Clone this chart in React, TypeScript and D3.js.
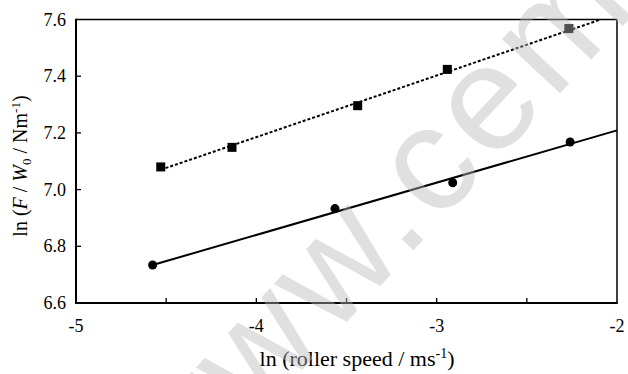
import React from "react";
import * as d3 from "d3";

const squareX = [-4.53, -4.135, -3.438, -2.941, -2.267];
const squareY = [7.08, 7.149, 7.296, 7.424, 7.568];
const circleX = [-4.575, -3.564, -2.911, -2.26];
const circleY = [6.734, 6.933, 7.024, 7.168];
const fitSquareX = [-4.53, -2.09];
const fitSquareY = [7.07, 7.6];
const fitCircleX = [-4.575, -2.0];
const fitCircleY = [6.734, 7.209];
const xTickMajor = [-5, -4, -3, -2];
const xTickMinor = [-4.5, -4, -3.5, -3, -2.5];
const yTicks = [6.6, 6.8, 7.0, 7.2, 7.4, 7.6];

const W = 628;
const H = 374;
const L = 76, R = 617, T = 19.5, B = 303;
const SERIF = '"Liberation Serif", "Times New Roman", Tinos, "DejaVu Serif", serif';

export default function App() {
  const x = d3.scaleLinear().domain([-5, -2]).range([L, R]);
  const y = d3.scaleLinear().domain([6.6, 7.6]).range([B, T]);
  const line = d3
    .line<[number, number]>()
    .x((d) => x(d[0]))
    .y((d) => y(d[1]));
  const sqFit: [number, number][] = fitSquareX.map((v, i) => [v, fitSquareY[i]]);
  const ciFit: [number, number][] = fitCircleX.map((v, i) => [v, fitCircleY[i]]);
  const ts = { fontFamily: SERIF };
  return (
    <svg
      width={W}
      height={H}
      style={{ position: "absolute", left: 0, top: 0, background: "#fff" }}
    >
      <rect x={0} y={0} width={W} height={H} fill="#fff" />
      {/* frame */}
      <line x1={L} x2={R} y1={T} y2={T} stroke="#000" strokeWidth={1.5} />
      <line x1={R} x2={R} y1={T} y2={B} stroke="#000" strokeWidth={1.5} />
      <line x1={L} x2={L} y1={T - 0.75} y2={B + 1} stroke="#000" strokeWidth={2} />
      <line x1={L - 1} x2={R + 0.75} y1={B} y2={B} stroke="#000" strokeWidth={2} />
      {/* ticks */}
      {xTickMinor.map((t) => (
        <line key={"xt" + t} x1={x(t)} x2={x(t)} y1={B} y2={B - 5} stroke="#000" strokeWidth={1.3} />
      ))}
      {yTicks.slice(1, -1).map((t) => (
        <line key={"yt" + t} x1={L} x2={L + 5} y1={y(t)} y2={y(t)} stroke="#000" strokeWidth={1.3} />
      ))}
      {xTickMajor.map((t) => (
        <text key={"xl" + t} x={x(t)} y={332} fontSize={18} textAnchor="middle" style={ts}>
          {"-" + Math.abs(t)}
        </text>
      ))}
      {yTicks.map((t) => (
        <text key={"yl" + t} x={66} y={y(t) + 6} fontSize={18} textAnchor="end" style={ts}>
          {t.toFixed(1)}
        </text>
      ))}
      {/* fits */}
      <path d={line(sqFit) || ""} fill="none" stroke="#000" strokeWidth={2} strokeDasharray="3,2" />
      <path d={line(ciFit) || ""} fill="none" stroke="#000" strokeWidth={2} />
      {/* markers */}
      {squareX.map((v, i) => (
        <rect key={"s" + i} x={x(v) - 4.5} y={y(squareY[i]) - 4.5} width={9} height={9} fill="#000" />
      ))}
      {circleX.map((v, i) => (
        <circle key={"c" + i} cx={x(v)} cy={y(circleY[i])} r={4.5} fill="#000" />
      ))}
      {/* axis titles */}
      <text x={357} y={366} fontSize={22} textAnchor="middle" style={ts}>
        ln (roller speed / ms<tspan dy={-8} fontSize={14}>-1</tspan>
        <tspan dy={8}>)</tspan>
      </text>
      <text transform={`translate(27, ${166}) rotate(-90)`} fontSize={20} textAnchor="middle" style={ts}>
        ln (<tspan fontStyle="italic">F</tspan> / <tspan fontStyle="italic">W</tspan>
        <tspan dy={4} fontSize={13}>0</tspan>
        <tspan dy={-4}> / Nm</tspan>
        <tspan dy={-7} fontSize={13}>-1</tspan>
        <tspan dy={7}>)</tspan>
      </text>
      {/* watermark */}
      <text
        transform="translate(176, 505) rotate(-47)"
        fontSize={150}
        letterSpacing={6}
        fill="#b8b8b8"
        opacity={0.43}
        style={{ fontFamily: '"Liberation Sans", Arial, sans-serif' }}
      >
        www.ceme
      </text>
    </svg>
  );
}
